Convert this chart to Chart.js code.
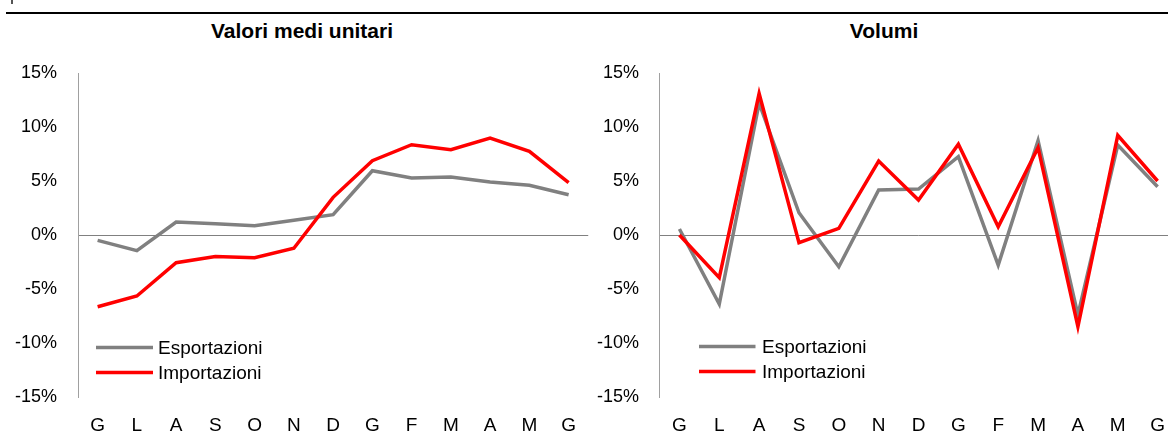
<!DOCTYPE html>
<html>
<head>
<meta charset="utf-8">
<script src="https://cdn.jsdelivr.net/npm/chart.js@4/dist/chart.umd.min.js"></script>
<style>
html,body{margin:0;padding:0;background:#fff;width:1168px;height:436px;overflow:hidden;position:relative;font-family:"Liberation Sans",Arial,sans-serif;}
.box{position:absolute;top:0;height:436px;}
.title{position:absolute;top:19px;font-weight:bold;font-size:21px;color:#000;white-space:nowrap;transform:translateX(-50%);}
#topline{position:absolute;left:6px;top:12px;width:1162px;height:2px;background:#000;}
#tick{position:absolute;left:11px;top:0;width:2px;height:4px;background:#555;}
</style>
</head>
<body>
<div id="tick"></div>
<div id="topline"></div>
<div class="title" style="left:302px;">Valori medi unitari</div>
<div class="title" style="left:884px;">Volumi</div>
<div class="box" style="left:0;width:593px;"><canvas id="c1" width="593" height="436"></canvas></div>
<div class="box" style="left:590px;width:592px;"><canvas id="c2" width="592" height="436"></canvas></div>
<script>
const categories = ["G","L","A","S","O","N","D","G","F","M","A","M","G"];
const seriesNames = ["Esportazioni","Importazioni"];
const yTicks = [-15,-10,-5,0,5,10,15];

const valoriEsportazioni = [-0.5,-1.45,1.2,1.05,0.86,1.36,1.88,5.95,5.28,5.37,4.9,4.6,3.73];
const valoriImportazioni = [-6.64,-5.65,-2.56,-2.0,-2.1,-1.23,3.49,6.88,8.36,7.9,8.98,7.75,4.84];

const volumiEsportazioni = [0.56,-6.39,12.2,2.06,-2.94,4.17,4.26,7.25,-2.78,8.73,-7.4,8.33,4.47];
const volumiImportazioni = [0.0,-3.95,13.1,-0.71,0.62,6.85,3.24,8.4,0.77,8.08,-8.49,9.23,5.0];

const GRAY = '#808080', RED = '#ff0000';
const FONT = '"Liberation Sans", Arial, sans-serif';

const legendPlugin = {
  id: 'customLegend',
  afterDraw(chart, args, opts) {
    const ctx = chart.ctx;
    ctx.save();
    ctx.font = '19px ' + FONT;
    ctx.textBaseline = 'middle';
    ctx.textAlign = 'left';
    const items = [0,1].map(i => chart.data.datasets.find(d => d.idx === i));
    items.forEach((ds, k) => {
      const y = opts.y + k * opts.gap;
      ctx.strokeStyle = ds.borderColor;
      ctx.lineWidth = 3.5;
      ctx.beginPath();
      ctx.moveTo(opts.x0, y);
      ctx.lineTo(opts.x1, y);
      ctx.stroke();
      ctx.fillStyle = '#000';
      ctx.fillText(ds.label, opts.tx, y + 1);
    });
    ctx.restore();
  }
};

function makeChart(id, exp, imp, yWidth, yPad, legendOpts) {
  return new Chart(document.getElementById(id), {
    type: 'line',
    data: {
      labels: categories,
      datasets: [
        {idx:1, label: seriesNames[1], data: imp, borderColor: RED, backgroundColor: RED, borderWidth: 3.5, pointRadius: 0, tension: 0, order: 0},
        {idx:0, label: seriesNames[0], data: exp, borderColor: GRAY, backgroundColor: GRAY, borderWidth: 3.5, pointRadius: 0, tension: 0, order: 1}
      ]
    },
    options: {
      responsive: false,
      animation: false,
      layout: {padding: {top: 73, left: 0, right: 0, bottom: 0}},
      plugins: {
        legend: {display: false},
        tooltip: {enabled: false},
        title: {display: false},
        customLegend: legendOpts
      },
      scales: {
        x: {
          type: 'category',
          offset: true,
          grid: {display: false, drawTicks: false},
          border: {display: false},
          ticks: {color: '#000', font: {size: 19, family: FONT}, padding: 17, maxRotation: 0, autoSkip: false},
          afterFit: s => { s.height = 39; }
        },
        y: {
          min: -15, max: 15,
          afterBuildTicks: s => { s.ticks = yTicks.map(v => ({value: v})); },
          grid: {
            drawTicks: false,
            color: c => (c.tick && c.tick.value === 0) ? '#808080' : 'rgba(0,0,0,0)',
            lineWidth: 1
          },
          border: {display: true, color: '#a0a0a0', width: 1},
          ticks: {color: '#000', font: {size: 18, family: FONT}, padding: yPad, callback: v => v + '%'},
          afterFit: s => { s.width = yWidth; }
        }
      }
    },
    plugins: [legendPlugin]
  });
}

makeChart('c1', valoriEsportazioni, valoriImportazioni, 78, 21,
  {x0: 96, x1: 153, tx: 158, y: 347.5, gap: 25});
makeChart('c2', volumiEsportazioni, volumiImportazioni, 69.5, 20.5,
  {x0: 109, x1: 165.5, tx: 172, y: 346.5, gap: 25});
</script>
</body>
</html>
